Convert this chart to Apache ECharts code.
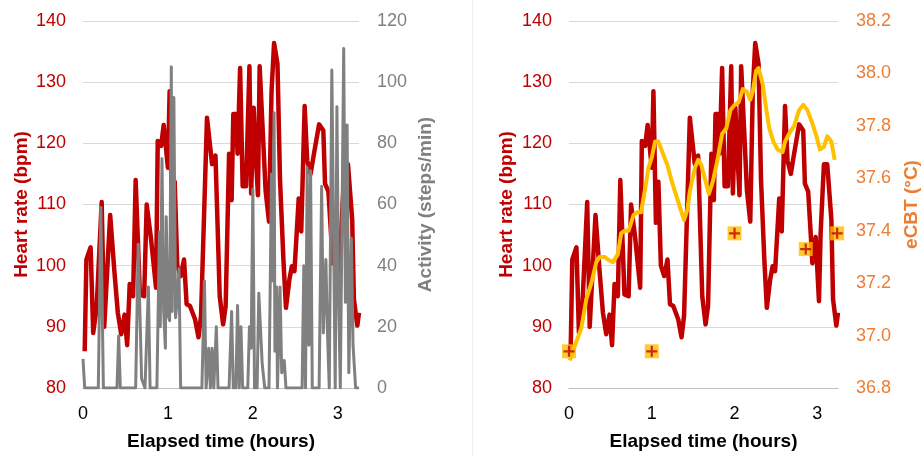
<!DOCTYPE html>
<html>
<head>
<meta charset="utf-8">
<script src="https://cdn.jsdelivr.net/npm/echarts@6/dist/echarts.min.js"></script>
<style>
html,body{margin:0;padding:0;background:#fff;}
#c{width:922px;height:456px;}
</style>
</head>
<body>
<div id="c"></div>
<script>
// Elapsed time (hours), heart rate (bpm)
const hrTime = [0.02,0.04,0.09,0.12,0.16,0.22,0.25,0.32,0.37,0.41,0.45,0.49,0.52,0.55,0.59,0.62,0.67,0.72,0.75,0.80,0.86,0.88,0.92,0.95,0.97,1.00,1.02,1.05,1.08,1.11,1.15,1.19,1.22,1.26,1.32,1.36,1.39,1.46,1.52,1.56,1.61,1.65,1.68,1.72,1.75,1.77,1.80,1.82,1.85,1.88,1.92,1.96,1.98,2.01,2.03,2.06,2.08,2.12,2.15,2.19,2.22,2.25,2.29,2.32,2.36,2.39,2.43,2.46,2.49,2.54,2.57,2.61,2.64,2.68,2.72,2.78,2.83,2.85,2.89,2.92,2.94,2.98,3.02,3.04,3.08,3.12,3.17,3.19,3.23,3.25];
const hrValue = [86,101,103,89,93,110.4,90,108.3,99,92.3,88.8,92,87,97,95,114,95.3,95,110,104.5,96.4,120.4,119.6,123,122.7,116,128.5,107,113.7,100,98.3,101,93.7,93.4,91.2,88.3,91.8,124.2,116.6,118,95,90.4,93.4,118.3,110.7,124.8,124.8,118.3,132.3,113,113,132.6,111.8,125.8,119.4,111.5,132.6,121,112.3,107.2,128.5,136.4,133,114,101,93.1,97.7,99.9,99.1,111,105.6,126.1,117.2,115,118.3,123.1,122.1,113.4,112.1,105.3,100.4,104.7,94.2,105.3,116.6,116.6,107.5,94.5,90.2,92.3];

// Activity (steps/min)
const actTime = [0,0.02,0.18,0.21,0.24,0.40,0.42,0.44,0.62,0.65,0.69,0.73,0.77,0.79,0.87,0.90,0.91,0.93,0.95,0.97,0.98,1.00,1.02,1.04,1.05,1.07,1.09,1.11,1.13,1.15,1.40,1.43,1.45,1.48,1.50,1.52,1.54,1.57,1.59,1.72,1.75,1.77,1.80,1.82,1.84,1.86,1.88,1.94,1.96,1.98,2.00,2.02,2.05,2.07,2.11,2.14,2.19,2.22,2.23,2.25,2.26,2.28,2.29,2.32,2.34,2.37,2.39,2.58,2.60,2.62,2.64,2.66,2.68,2.70,2.78,2.81,2.83,2.86,2.88,2.90,2.93,2.95,2.97,2.99,3.01,3.03,3.07,3.09,3.11,3.13,3.16,3.18,3.21,3.25];
const actValue = [9.5,0,0,59,0,0,17,0,0,47,3,0,33,0,0,51,20,75,25,13,56,24,22,105,25,95,23,29,39,0,0,35,0,13,0,13,0,20,0,0,25,0,0,27,0,20,0,0,20,13,65,0,0,31,8,0,0,70,35,90,12,33,0,33,5,9,0,0,40,0,72,14,71,0,0,66,18,42,17,0,104,52,0,92,29,0,111,28,86,5,49,14,0,0];

// eCBT (°C)
const cbtTime = [0.01,0.07,0.15,0.21,0.27,0.33,0.37,0.43,0.47,0.53,0.59,0.63,0.67,0.72,0.78,0.82,0.87,0.92,0.96,1.00,1.04,1.08,1.14,1.19,1.24,1.30,1.36,1.39,1.43,1.46,1.52,1.56,1.60,1.64,1.69,1.74,1.80,1.85,1.90,1.95,2.00,2.05,2.10,2.15,2.19,2.22,2.26,2.29,2.34,2.38,2.42,2.47,2.52,2.58,2.61,2.66,2.72,2.78,2.83,2.88,2.94,2.99,3.03,3.08,3.12,3.17,3.21];
const cbtValue = [36.905,36.96,37.03,37.14,37.20,37.28,37.30,37.30,37.29,37.28,37.31,37.39,37.40,37.40,37.46,37.47,37.47,37.56,37.64,37.68,37.74,37.74,37.69,37.65,37.59,37.53,37.47,37.44,37.48,37.55,37.64,37.67,37.65,37.60,37.54,37.59,37.68,37.77,37.79,37.86,37.88,37.89,37.94,37.93,37.90,37.93,38.01,38.02,37.96,37.87,37.79,37.74,37.71,37.70,37.74,37.77,37.80,37.86,37.88,37.86,37.81,37.76,37.71,37.72,37.76,37.74,37.67];

// Measured core temperature points (°C)
const coreTime = [0,1.0,2.0,2.86,3.24];
const coreValue = [36.94,36.94,37.39,37.33,37.39];

// Tick settings
const hrTicks = {min:80, max:140, interval:10};
const actTicks = {min:0, max:120, interval:20};
const cbtTicks = {min:36.8, max:38.2, interval:0.2};
const timeTicks = {min:0, max:3.25, interval:1};

const zip = (a,b) => a.map((v,i)=>[v,b[i]]);

const RED = '#C00000', GRAY = '#808080', ORANGE = '#ED7D31', YELLOW = '#FFC000';
const FONT = 'Liberation Sans, Arial, sans-serif';

function xAxis(gi){
  return {
    type:'value', gridIndex:gi, min:timeTicks.min, max:timeTicks.max, interval:timeTicks.interval,
    axisLine:{show:true, lineStyle:{color:'#bfbfbf', width:1}},
    axisTick:{show:false}, splitLine:{show:false},
    axisLabel:{color:'#000', fontSize:18, fontFamily:FONT, margin:17, showMaxLabel:false},
    name:'Elapsed time (hours)', nameLocation:'middle', nameGap:44,
    nameTextStyle:{color:'#000', fontSize:19, fontWeight:'bold', fontFamily:FONT}
  };
}
function yAxis(gi, pos, t, color, name, gap, fmt){
  return {
    type:'value', gridIndex:gi, position:pos, min:t.min, max:t.max, interval:t.interval,
    axisLine:{show:false}, axisTick:{show:false},
    splitLine:{show: pos==='left', lineStyle:{color:'#d9d9d9', width:1}},
    axisLabel:{color:color, fontSize:18, fontFamily:FONT, margin: pos==='left'?17:18, formatter:fmt},
    name:name, nameLocation:'middle', nameGap:gap, nameRotate:90,
    nameTextStyle:{color:color, fontSize:19, fontWeight:'bold', fontFamily:FONT}
  };
}

const chart = echarts.init(document.getElementById('c'), null, {renderer:'canvas'});
chart.setOption({
  animation:false,
  backgroundColor:'#fff',
  graphic:[{type:'line', shape:{x1:472.5,y1:0,x2:472.5,y2:456}, style:{stroke:'#efefef', lineWidth:1}, silent:true}],
  grid:[
    {left:83, top:21, width:276, height:370},
    {left:569, top:21, width:270, height:370}
  ],
  xAxis:[xAxis(0), xAxis(1)],
  yAxis:[
    yAxis(0,'left',hrTicks,RED,'Heart rate (bpm)',52, v=>String(v)),
    yAxis(0,'right',actTicks,GRAY,'Activity (steps/min)',57, v=>String(v)),
    yAxis(1,'left',hrTicks,RED,'Heart rate (bpm)',53, v=>String(v)),
    yAxis(1,'right',cbtTicks,ORANGE,'eCBT (°C)',64, v=>v.toFixed(1))
  ],
  series:[
    {type:'line', xAxisIndex:0, yAxisIndex:0, data:zip(hrTime,hrValue), showSymbol:false,
     lineStyle:{color:RED, width:4.5, join:'round'}, z:2},
    {type:'line', xAxisIndex:0, yAxisIndex:1, data:zip(actTime,actValue), showSymbol:false,
     lineStyle:{color:GRAY, width:3, join:'round'}, z:3},
    {type:'line', xAxisIndex:1, yAxisIndex:2, data:zip(hrTime,hrValue), showSymbol:false,
     lineStyle:{color:RED, width:4.5, join:'round'}, z:2},
    {type:'line', xAxisIndex:1, yAxisIndex:3, data:zip(cbtTime,cbtValue), showSymbol:false,
     lineStyle:{color:YELLOW, width:4, join:'round'}, z:3},
    {type:'scatter', xAxisIndex:1, yAxisIndex:3, data:zip(coreTime,coreValue), symbol:'rect', symbolSize:14,
     itemStyle:{color:YELLOW}, clip:false, z:4},
    {type:'scatter', xAxisIndex:1, yAxisIndex:3, data:zip(coreTime,coreValue),
     symbol:'path://M4,0H6V4H10V6H6V10H4V6H0V4H4Z', symbolSize:11,
     itemStyle:{color:RED}, clip:false, z:5}
  ]
});
</script>
</body>
</html>
